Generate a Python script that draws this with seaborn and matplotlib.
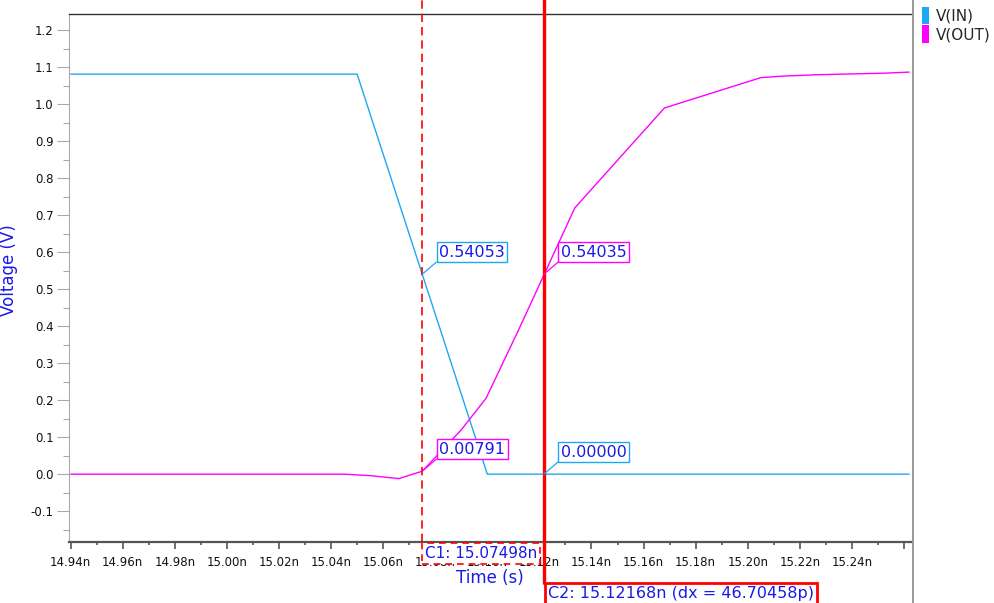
import numpy as np
import pandas as pd
import matplotlib
matplotlib.use("Agg")
import matplotlib.pyplot as plt
import matplotlib.transforms as mtransforms
from matplotlib.lines import Line2D
from matplotlib.patches import Patch
from matplotlib.ticker import FixedLocator
import seaborn as sns

# =====================================================
# DATA  (time in ns, voltage in V)
# =====================================================

t_in = [14.94, 15.05, 15.10, 15.262]
v_in = [1.0815, 1.0815, 0.0, 0.0]

t_out = [14.94, 15.045, 15.055, 15.066, 15.075, 15.090, 15.0995,
         15.112, 15.1336, 15.168, 15.205, 15.213, 15.227, 15.252, 15.262]
v_out = [0.0, 0.0, -0.004, -0.012, 0.008, 0.12, 0.205,
         0.39, 0.72, 0.99, 1.072, 1.076, 1.080, 1.084, 1.087]

signal_names = ["V(IN)", "V(OUT)"]
signal_colors = ["#1ea7f2", "#ff00ff"]

cursor_names = ["C1", "C2"]
cursor_times = [15.07498, 15.12168]
cursor_in = [0.54053, 0.00000]
cursor_out = [0.00791, 0.54035]
cursor_dx = "46.70458p"

x_ticks = [14.94, 14.96, 14.98, 15.00, 15.02, 15.04, 15.06, 15.08,
           15.10, 15.12, 15.14, 15.16, 15.18, 15.20, 15.22, 15.24]
x_tick_labels = ["14.94n", "14.96n", "14.98n", "15.00n", "15.02n", "15.04n",
                 "15.06n", "15.08n", "15.10n", "15.12n", "15.14n", "15.16n",
                 "15.18n", "15.20n", "15.22n", "15.24n"]
y_ticks = [-0.1, 0.0, 0.1, 0.2, 0.3, 0.4, 0.5, 0.6, 0.7, 0.8, 0.9, 1.0, 1.1, 1.2]
y_tick_labels = ["-0.1", "0.0", "0.1", "0.2", "0.3", "0.4", "0.5", "0.6",
                 "0.7", "0.8", "0.9", "1.0", "1.1", "1.2"]

df = pd.concat([
    pd.DataFrame({"time": t_in, "voltage": v_in, "signal": signal_names[0]}),
    pd.DataFrame({"time": t_out, "voltage": v_out, "signal": signal_names[1]}),
])

# =====================================================
# FIGURE
# =====================================================

sns.set_theme(style="white")
plt.rcParams["font.family"] = ["DejaVu Sans"]

text_blue = "#1a1ae6"

fig = plt.figure(figsize=(9.95, 6.03), dpi=100)
W, H = 995, 603
ax = fig.add_axes([69 / W, (H - 542) / H, (911 - 69) / W, (542 - 14) / H])

sns.lineplot(
    data=df, x="time", y="voltage", hue="signal",
    palette=dict(zip(signal_names, signal_colors)),
    estimator=None, sort=False, legend=False,
    linewidth=1.0, ax=ax
)

ax.set_xlim(14.93935, 15.2627)
ax.set_ylim(-0.1834, 1.2441)

# ticks
ax.xaxis.set_major_locator(FixedLocator(x_ticks + [15.26]))
ax.set_xticklabels(x_tick_labels + [""])
ax.xaxis.set_minor_locator(FixedLocator([t + 0.01 for t in x_ticks]))
ax.yaxis.set_major_locator(FixedLocator(y_ticks))
ax.set_yticklabels(y_tick_labels)
ax.yaxis.set_minor_locator(FixedLocator([y + 0.05 for y in y_ticks[:-1]] + [-0.15]))

ax.tick_params(axis="x", which="major", direction="out", length=5,
               width=1.2, color="#555555", labelsize=8.5, pad=5, labelcolor="#111111")
ax.tick_params(axis="x", which="minor", direction="out", length=2.5,
               width=1.2, color="#555555")
ax.tick_params(axis="y", which="major", direction="out", length=9,
               width=0.8, color="#aaaaaa", labelsize=8.5, pad=2, labelcolor="#111111")
ax.tick_params(axis="y", which="minor", direction="out", length=4.5,
               width=0.8, color="#aaaaaa")
ax.tick_params(bottom=True, left=True, which="both")

# spines
ax.spines["right"].set_visible(False)
ax.spines["top"].set_color("#333333")
ax.spines["top"].set_linewidth(1.0)
ax.spines["left"].set_color("#aaaaaa")
ax.spines["left"].set_linewidth(0.8)
ax.spines["bottom"].set_color("#555555")
ax.spines["bottom"].set_linewidth(1.6)

# axis labels
ax.set_xlabel("Time (s)", color=text_blue, fontsize=12)
ax.set_ylabel("Voltage (V)", color=text_blue, fontsize=12)
ax.xaxis.set_label_coords(0.5, -0.051)
ax.yaxis.set_label_coords(-0.0606, 0.515)

# panel separator on the right
fig.add_artist(Line2D([913.5 / W, 913.5 / W], [0, 1], color="#888888",
                      linewidth=1.2, transform=fig.transFigure))

# =====================================================
# CURSORS
# =====================================================

trans = mtransforms.blended_transform_factory(ax.transData, ax.transAxes)
top_ext = 1 + 14 / 528

ax.axvline(cursor_times[0], ymin=0, ymax=top_ext, color="red",
           linestyle=(0, (5, 3)), linewidth=1.2, clip_on=False, zorder=5)
ax.axvline(cursor_times[1], ymin=-41 / 528, ymax=top_ext, color="red",
           linewidth=2.4, clip_on=False, zorder=5)

ax.annotate(
    f"{cursor_names[0]}: {cursor_times[0]:.5f}n",
    xy=(cursor_times[0], 0), xycoords=trans,
    xytext=(3, -4), textcoords="offset pixels",
    ha="left", va="top", fontsize=11, color=text_blue, zorder=6,
    bbox=dict(boxstyle="square,pad=0.2", fc="white", ec="red",
              ls=(0, (4, 3)), lw=1.2),
    annotation_clip=False
)
ax.annotate(
    f"{cursor_names[1]}: {cursor_times[1]:.5f}n (dx = {cursor_dx})",
    xy=(cursor_times[1], 0), xycoords=trans,
    xytext=(4, -44), textcoords="offset pixels",
    ha="left", va="top", fontsize=11.5, color=text_blue, zorder=6,
    bbox=dict(boxstyle="square,pad=0.2", fc="white", ec="red", lw=2.0),
    annotation_clip=False
)

# value markers at the cursors
for t, vi, vo in zip(cursor_times, cursor_in, cursor_out):
    for val, col in [(vi, signal_colors[0]), (vo, signal_colors[1])]:
        ax.annotate(
            f"{val:.5f}",
            xy=(t, val), xycoords="data",
            xytext=(17, 22), textcoords="offset pixels",
            ha="left", va="center", fontsize=11.5, color=text_blue, zorder=7,
            bbox=dict(boxstyle="square,pad=0.15", fc="white", ec=col, lw=1.0),
            arrowprops=dict(arrowstyle="-", color=col, lw=0.9,
                            relpos=(0, 0), shrinkA=0, shrinkB=0)
        )

# =====================================================
# LEGEND
# =====================================================

handles = [Patch(facecolor=c, edgecolor="none") for c in signal_colors]
fig.legend(
    handles, signal_names,
    loc="upper left", bbox_to_anchor=(911 / W, 1 + 4 / H),
    frameon=False, fontsize=11,
    handlelength=0.45, handleheight=1.35,
    handletextpad=0.5, labelspacing=0.1, borderpad=0.2
)

fig.savefig("out.png", dpi=100)
